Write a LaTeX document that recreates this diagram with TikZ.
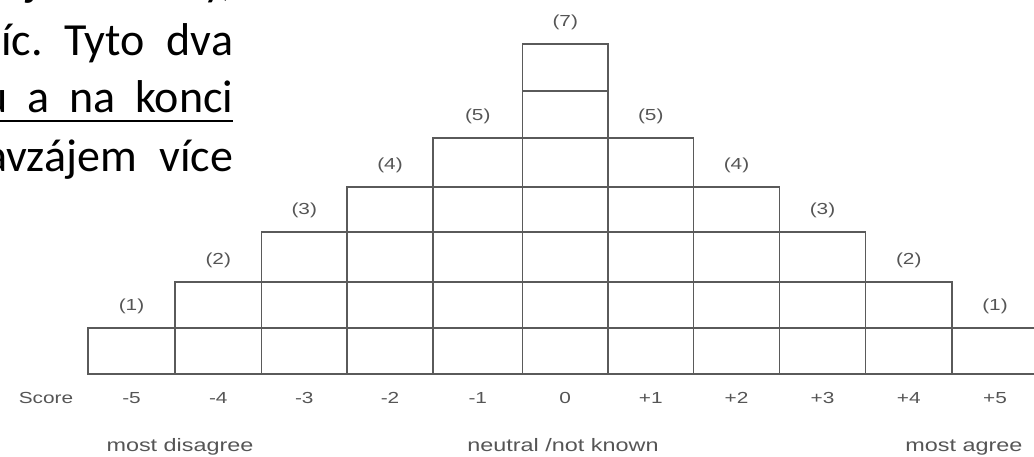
\documentclass[tikz,border=0pt]{standalone}
\usepackage{fontspec}
\setmainfont{Liberation Sans}
\newfontfamily\grfont[FakeStretch=1.3]{Liberation Sans}
\newfontfamily\czfont{Carlito}
\definecolor{gridc}{RGB}{90,90,90}
\definecolor{txtc}{RGB}{85,85,85}
\frenchspacing
\begin{document}
\begin{tikzpicture}[x=1pt,y=1pt,
  cell/.style={draw=gridc, line width=1.9pt},
  cnt/.style={font=\grfont\fontsize{16}{18}\selectfont, text=txtc, inner sep=0pt},
  scorelbl/.style={font=\grfont\fontsize{16}{18}\selectfont, text=txtc, inner sep=0pt},
  endlbl/.style={font=\grfont\fontsize{18}{20}\selectfont, text=txtc, inner sep=0pt, anchor=base},
  cz/.style={font=\czfont\fontsize{46}{56}\selectfont, text=black, inner sep=0pt, anchor=base west}]
\useasboundingbox (0,0) rectangle (1034,456);
\clip (0,0) rectangle (1034,456);
\def\Ys{{82,128,174,224,269,318,365,412}}
% grid columns
\foreach \xl/\xr/\h/\sc [count=\k] in {88/175/1/-5, 175/261.5/2/-4, 261.5/347/3/-3, 347/433/4/-2, 433/522.5/5/-1, 522.5/608/7/0, 608/693.5/5/+1, 693.5/779.5/4/+2, 779.5/865.5/3/+3, 865.5/952/2/+4, 952/1038/1/+5}{
  \foreach \r in {1,...,\h}{
    \pgfmathsetmacro\ya{\Ys[\r-1]}
    \pgfmathsetmacro\yb{\Ys[\r]}
    \draw[cell] (\xl,\ya) rectangle (\xr,\yb);
  }
  \pgfmathsetmacro\ytop{\Ys[\h]}
  \node[cnt] (cnt\k) at ({(\xl+\xr)/2},{\ytop+22}) {(\h)};
  \node[scorelbl] (sc\k) at ({(\xl+\xr)/2},58) {\sc};
}
\node[scorelbl] (score) at (46,58) {Score};
\node[endlbl] (dis) at (180,5) {most disagree};
\node[endlbl] (neu) at (563,5) {neutral /not known};
\node[endlbl] (agr) at (964,5) {most agree};
% Czech text fragment
\node[cz] (l1a) at (26,460) {j};
\node[cz, anchor=base east] (l1b) at (233,460) {y,};
\node[cz] (l2) at (1,400) {\makebox[232pt][s]{íc. Tyto dva}};
\node[cz] (l3) at (-17,343) {\makebox[250pt][s]{u a na konci}};
\node[cz] (l4) at (-15,284) {\makebox[248pt][s]{avzájem více}};
\draw[line width=2pt] (0,335) coordinate (ul1) -- (233,335) coordinate (ul2);
\end{tikzpicture}
\end{document}
